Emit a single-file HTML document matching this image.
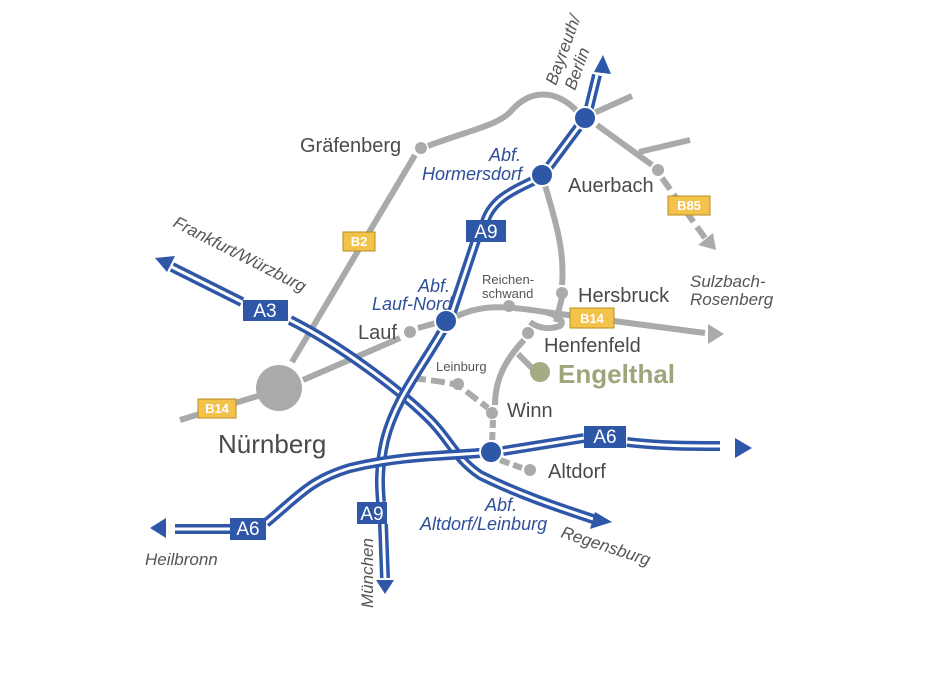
<!DOCTYPE html>
<html><head><meta charset="utf-8">
<style>
html,body{margin:0;padding:0;background:#fff;}
svg{display:block;font-family:"Liberation Sans","DejaVu Sans",sans-serif;}
.g{fill:none;stroke:#a9abab;stroke-width:6;stroke-linecap:butt;}
.mo{fill:none;stroke:#2f57a8;stroke-width:10;}
.mi{fill:none;stroke:#fff;stroke-width:3;}
.t{fill:#4a4a4a;font-size:20px;}
.ts{fill:#555;font-size:13px;}
.ab{fill:#2f4f9a;font-size:18px;font-style:italic;}
.dir{fill:#555;font-size:17px;font-style:italic;}
.box{fill:#2f57a8;}
.bt{fill:#fff;font-size:19px;}
.yb{fill:#f3c24b;stroke:#b88a20;stroke-width:1;}
.yt{fill:#fff;font-size:13px;font-weight:bold;}
</style></head><body>
<svg width="942" height="681" viewBox="0 0 942 681" xmlns="http://www.w3.org/2000/svg">
<!-- gray roads -->
<path class="g" d="M180,420 L258,396"/>
<path class="g" d="M303,380 C330,368 360,355 400,338"/>
<path class="g" d="M292,362 L415,155"/>
<path class="g" d="M428,146 C470,130 500,125 512,110 C530,90 555,88 578,112"/>
<path class="g" d="M594,113 L632,96"/>
<path class="g" d="M597,125 L652,165"/>
<path class="g" d="M639,152 L690,140"/>
<path class="g" d="M662,178 L705,238" stroke-dasharray="14,6"/>
<polygon points="716,250 698,245 713,233" fill="#a9abab"/>
<path class="g" d="M545,185 C555,220 565,250 562,285"/>
<path class="g" d="M418,328 L440,322"/>
<path class="g" d="M455,317 C480,305 500,305 545,312 L705,333"/>
<path class="g" d="M562,297 L556,322"/>
<path class="g" d="M545,312 C560,316 565,322 560,326 C548,330 538,328 530,322"/>
<path class="g" d="M524,340 C505,360 495,380 495,405"/>
<path class="g" d="M518,354 L532,368"/>
<path class="g" d="M412,378 C430,380 445,382 458,385 L488,408" stroke-dasharray="14,5"/>
<path class="g" d="M493,420 L492,445" stroke-dasharray="8,4"/>
<path class="g" d="M500,460 L522,468" stroke-dasharray="10,4"/>
<!-- gray dots -->
<circle cx="279" cy="388" r="23" fill="#a9abab"/>
<g fill="#a9abab">
<circle cx="421" cy="148" r="6"/><circle cx="658" cy="170" r="6"/>
<circle cx="562" cy="293" r="6"/><circle cx="509" cy="306" r="6"/>
<circle cx="410" cy="332" r="6"/><circle cx="528" cy="333" r="6"/>
<circle cx="458" cy="384" r="6"/><circle cx="492" cy="413" r="6"/>
<circle cx="530" cy="470" r="6"/>
</g>
<circle cx="540" cy="372" r="10" fill="#a7ab85"/>
<!-- motorways -->
<g>
<path class="mo" d="M172,267 L242,302"/><path class="mi" d="M172,267 L242,302"/>
<path class="mo" d="M290,320 C340,345 400,390 430,420 C450,440 455,458 480,475 C520,495 560,508 596,520"/>
<path class="mi" d="M290,320 C340,345 400,390 430,420 C450,440 455,458 480,475 C520,495 560,508 596,520"/>
<path class="mo" d="M597,75 L588,112"/><path class="mi" d="M597,75 L588,112"/>
<path class="mo" d="M580,125 L548,168"/><path class="mi" d="M580,125 L548,168"/>
<path class="mo" d="M535,180 C510,192 492,200 485,222"/><path class="mi" d="M535,180 C510,192 492,200 485,222"/>
<path class="mo" d="M476,240 L452,312"/><path class="mi" d="M476,240 L452,312"/>
<path class="mo" d="M443,330 C420,370 395,400 385,440 C378,470 380,490 381,502"/>
<path class="mi" d="M443,330 C420,370 395,400 385,440 C378,470 380,490 381,502"/>
<path class="mo" d="M383,524 L385,578"/><path class="mi" d="M383,524 L385,578"/>
<path class="mo" d="M175,529 L232,529"/><path class="mi" d="M175,529 L232,529"/>
<path class="mo" d="M266,523 C300,495 310,480 350,468 C400,456 440,456 480,453"/>
<path class="mi" d="M266,523 C300,495 310,480 350,468 C400,456 440,456 480,453"/>
<path class="mo" d="M503,451 L584,438"/><path class="mi" d="M503,451 L584,438"/>
<path class="mo" d="M627,442 C660,446 690,446 720,446"/><path class="mi" d="M627,442 C660,446 690,446 720,446"/>
</g>
<!-- arrows -->
<g fill="#2f57a8">
<polygon points="603,55 594,72 611,74"/>
<polygon points="155,258 175,256 167,272"/>
<polygon points="385,594 376,580 394,580"/>
<polygon points="150,528 166,518 166,538"/>
<polygon points="752,448 735,438 735,458"/>
<polygon points="612,522 595,512 590,529"/>
</g>
<polygon points="724,334 708,324 708,344" fill="#a9abab"/>
<!-- nodes -->
<g fill="#2f57a8" stroke="#fff" stroke-width="2">
<circle cx="585" cy="118" r="11"/><circle cx="542" cy="175" r="11"/>
<circle cx="446" cy="321" r="11"/><circle cx="491" cy="452" r="11"/>
</g>
<!-- shields -->
<rect class="box" x="466" y="220" width="40" height="22"/><text class="bt" x="486" y="238" text-anchor="middle">A9</text>
<rect class="box" x="243" y="300" width="45" height="21"/><text class="bt" x="265" y="317" text-anchor="middle">A3</text>
<rect class="box" x="357" y="502" width="30" height="22"/><text class="bt" x="372" y="520" text-anchor="middle">A9</text>
<rect class="box" x="230" y="518" width="36" height="22"/><text class="bt" x="248" y="535" text-anchor="middle">A6</text>
<rect class="box" x="584" y="426" width="42" height="22"/><text class="bt" x="605" y="443" text-anchor="middle">A6</text>
<rect class="yb" x="343" y="232" width="32" height="19"/><text class="yt" x="359" y="246" text-anchor="middle">B2</text>
<rect class="yb" x="668" y="196" width="42" height="19"/><text class="yt" x="689" y="210" text-anchor="middle">B85</text>
<rect class="yb" x="570" y="308" width="44" height="20"/><text class="yt" x="592" y="323" text-anchor="middle">B14</text>
<rect class="yb" x="198" y="399" width="38" height="19"/><text class="yt" x="217" y="413" text-anchor="middle">B14</text>
<!-- labels -->
<text class="t" x="300" y="152">Gräfenberg</text>
<text class="t" x="568" y="192">Auerbach</text>
<text class="t" x="578" y="302">Hersbruck</text>
<text class="t" x="358" y="339">Lauf</text>
<text class="t" x="544" y="352">Henfenfeld</text>
<text x="558" y="383" fill="#9fa57a" font-size="26" font-weight="bold">Engelthal</text>
<text class="t" x="507" y="417">Winn</text>
<text class="t" x="548" y="478">Altdorf</text>
<text x="218" y="453" fill="#4a4a4a" font-size="26">Nürnberg</text>
<text class="ts" x="482" y="284">Reichen-</text>
<text class="ts" x="482" y="298">schwand</text>
<text class="ts" x="436" y="371">Leinburg</text>
<text class="ab" x="489" y="161">Abf.</text>
<text class="ab" x="422" y="180">Hormersdorf</text>
<text class="ab" x="418" y="292">Abf.</text>
<text class="ab" x="372" y="310" font-size="17">Lauf-Nord</text>
<text class="ab" x="485" y="511">Abf.</text>
<text class="ab" x="420" y="530">Altdorf/Leinburg</text>
<text class="dir" x="690" y="287">Sulzbach-</text>
<text class="dir" x="690" y="305">Rosenberg</text>
<text class="dir" x="145" y="565">Heilbronn</text>
<text class="dir" transform="translate(172,226) rotate(27)">Frankfurt/Würzburg</text>
<text class="dir" transform="translate(560,537) rotate(18)">Regensburg</text>
<text class="dir" transform="translate(373,608) rotate(-90)">München</text>
<text class="dir" transform="translate(556,86) rotate(-70)">Bayreuth/</text>
<text class="dir" transform="translate(575,91) rotate(-70)">Berlin</text>
</svg>
</body></html>
